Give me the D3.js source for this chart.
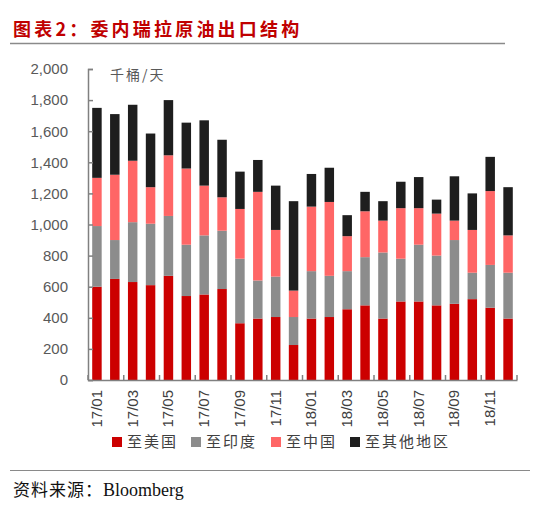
<!DOCTYPE html>
<html><head><meta charset="utf-8">
<script src="https://cdn.jsdelivr.net/npm/d3@7"></script>
<style>body{margin:0;background:#fff}svg{display:block}</style>
</head><body>
<script>
const months = ["17/01","17/02","17/03","17/04","17/05","17/06","17/07","17/08","17/09","17/10","17/11","17/12",
                "18/01","18/02","18/03","18/04","18/05","18/06","18/07","18/08","18/09","18/10","18/11","18/12"];
const toUS    = [600,650,630,610,670,540,550,585,365,395,405,225,395,405,455,480,395,505,505,480,490,520,465,395];
const toIndia = [390,250,385,395,385,330,380,375,415,245,260,180,305,265,245,310,425,275,365,320,410,170,275,295];
const toChina = [310,420,395,235,390,490,320,215,320,570,300,170,415,475,225,295,205,325,235,270,125,275,475,240];
const toOther = [450,390,360,345,355,295,420,370,240,205,285,575,210,220,135,125,125,170,200, 90,285,235,220,310];
const seriesNames = ["至美国","至印度","至中国","至其他地区"];
const yTicks = [0,200,400,600,800,1000,1200,1400,1600,1800,2000];
const colors = ["#cc0000","#8c8c8c","#ff6666","#1e1e1e"];

const W=550,H=508;
const svg=d3.select("body").append("svg").attr("width",W).attr("height",H);
const m={left:88,right:517,top:69,bottom:380};
const x=d3.scaleBand().domain(months).range([m.left,m.right]).paddingInner(0.47).paddingOuter(0.235);
const y=d3.scaleLinear().domain([0,2000]).range([m.bottom,m.top]);

// title
svg.append("text").attr("x",13).attr("y",36).attr("fill","#c00000")
  .attr("font-family","'Noto Sans CJK SC'").attr("font-size",18).attr("font-weight","bold")
  .attr("letter-spacing",3.2).text("图表2：委内瑞拉原油出口结构");
svg.append("line").attr("x1",10).attr("x2",505).attr("y1",43.5).attr("y2",43.5).attr("stroke","#8a8a8a").attr("stroke-width",1.5);

const rows=months.map((mo,i)=>({m:mo,s0:toUS[i],s1:toIndia[i],s2:toChina[i],s3:toOther[i]}));
const stack=d3.stack().keys(["s0","s1","s2","s3"])(rows);
stack.forEach((layer,k)=>{
  svg.append("g").selectAll("rect").data(layer).join("rect")
    .attr("x",d=>x(d.data.m)).attr("width",x.bandwidth())
    .attr("y",d=>y(d[1])).attr("height",d=>y(d[0])-y(d[1]))
    .attr("fill",colors[k]);
});

// y axis
const ya=svg.append("g").attr("transform",`translate(${m.left},0)`)
  .call(d3.axisLeft(y).tickValues(yTicks).tickSize(-5).tickPadding(20).tickFormat(d3.format(",")));
ya.select(".domain").attr("stroke","#808080").attr("stroke-width",1.5);
ya.selectAll(".tick line").attr("stroke","#808080").attr("stroke-width",1.5);
ya.selectAll("text").attr("font-family","Arial, 'Liberation Sans'").attr("font-size",15).attr("fill","#595959");

// x axis
const xa=svg.append("g").attr("transform",`translate(0,${m.bottom})`)
  .call(d3.axisBottom(x).tickValues([]).tickSize(0));
xa.select(".domain").attr("stroke","#808080").attr("stroke-width",1.5);
const bounds=d3.range(0,25,2).map(i=>m.left+i*(m.right-m.left)/24);
svg.append("g").selectAll("line").data(bounds).join("line")
  .attr("x1",d=>d).attr("x2",d=>d).attr("y1",m.bottom).attr("y2",m.bottom-5)
  .attr("stroke","#808080").attr("stroke-width",1.5);
svg.append("g").selectAll("text").data(months.filter((d,i)=>i%2===0)).join("text")
  .attr("transform",d=>`translate(${x(d)+x.bandwidth()/2+5},390) rotate(-90)`)
  .attr("text-anchor","end").attr("font-family","Arial, 'Liberation Sans'").attr("font-size",15).attr("fill","#404040")
  .text(d=>d);

// unit
svg.append("text").attr("x",110).attr("y",80).attr("font-family","'Noto Sans CJK SC'").attr("font-size",14)
  .attr("fill","#595959").attr("letter-spacing",2).text("千桶/天");

// legend
const lx=[112,191,271,350];
const lg=svg.append("g").selectAll("g").data(seriesNames).join("g").attr("transform",(d,i)=>`translate(${lx[i]},437)`);
lg.append("rect").attr("width",10).attr("height",10).attr("fill",(d,i)=>colors[i]);
lg.append("text").attr("x",15).attr("y",10).attr("font-family","'Noto Sans CJK SC'").attr("font-size",15)
  .attr("fill","#404040").attr("letter-spacing",2).text(d=>d);

// footer
svg.append("line").attr("x1",10).attr("x2",530).attr("y1",470.5).attr("y2",470.5).attr("stroke","#8a8a8a").attr("stroke-width",1.2);
const ft=svg.append("text").attr("x",13).attr("y",496).attr("font-family","'Liberation Serif','Noto Sans CJK SC'").attr("font-size",17)
  .attr("fill","#111");
ft.append("tspan").attr("letter-spacing",1).text("资料来源：");
ft.append("tspan").attr("font-size",18).text("Bloomberg");
</script>
</body></html>
